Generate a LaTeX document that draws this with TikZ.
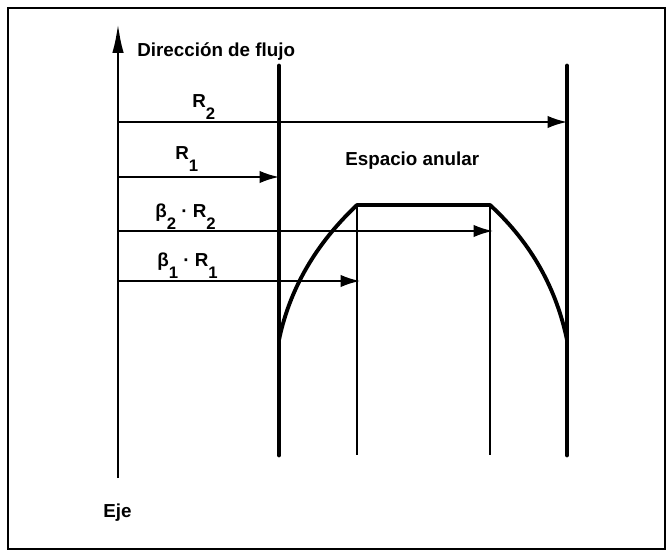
\documentclass[tikz,border=0pt]{standalone}
\usepackage{fontspec}
\setmainfont{Liberation Sans}
\usetikzlibrary{arrows.meta}
\newcommand{\subi}[1]{\raisebox{-6.5pt}{\fontsize{9.5}{10}\selectfont #1}}
\tikzset{
  lbl/.style={font=\fontsize{10.7}{12}\selectfont\bfseries, inner sep=0pt, anchor=base west},
  radio/.style={line width=1.1pt, -{Latex[length=11pt,width=7pt]}},
  pared/.style={line width=2.8pt, line cap=round},
  guia/.style={line width=0.6pt},
}
\begin{document}
\begin{tikzpicture}[x=0.02cm,y=-0.02cm]
  \useasboundingbox (0,0) rectangle (667,554);
  % frame
  \draw[line width=1pt] (8,8) rectangle (665,549);
  % axis of the annulus
  \coordinate (ejeA) at (118,478);
  \coordinate (ejeB) at (118,23);
  \draw[line width=1.7pt, -{Latex[length=17pt,width=6.5pt]}] (ejeA) -- (ejeB);
  \node[lbl] (dir) at (137,57) {Dirección de flujo};
  \node[lbl] (eje) at (103,518) {Eje};
  % walls
  \coordinate (w1t) at (279,66); \coordinate (w1b) at (279,455);
  \coordinate (w2t) at (567,66); \coordinate (w2b) at (567,455);
  \draw[pared] (w1t) -- (w1b);
  \draw[pared] (w2t) -- (w2b);
  % radii
  \coordinate (r2a) at (118,122); \coordinate (r2b) at (567,122);
  \coordinate (r1a) at (118,177); \coordinate (r1b) at (279,177);
  \coordinate (b2a) at (118,231); \coordinate (b2b) at (493,231);
  \coordinate (b1a) at (118,281); \coordinate (b1b) at (360,281);
  \draw[radio] (r2a) -- (r2b);
  \draw[radio] (r1a) -- (r1b);
  \draw[radio] (b2a) -- (b2b);
  \draw[radio] (b1a) -- (b1b);
  \node[lbl] (lr2) at (192,108) {R\subi{2}};
  \node[lbl] (lr1) at (175,160) {R\subi{1}};
  \node[lbl] (lb2) at (155,218) {β\subi{2} · R\subi{2}};
  \node[lbl] (lb1) at (157,267) {β\subi{1} · R\subi{1}};
  % velocity profile
  \coordinate (p0) at (279,340);
  \coordinate (p1) at (357,205);
  \coordinate (p2) at (490,205);
  \coordinate (p3) at (567,340);
  \draw[line width=2.2pt, line join=round]
    (p0) .. controls (291,282) and (322,238) .. (p1)
    -- (p2) .. controls (526,238) and (555,282) .. (p3);
  \draw[guia] (p1) -- (357,455);
  \draw[guia] (p2) -- (490,455);
  \node[lbl] (esp) at (345,166) {Espacio anular};
\end{tikzpicture}
\end{document}
